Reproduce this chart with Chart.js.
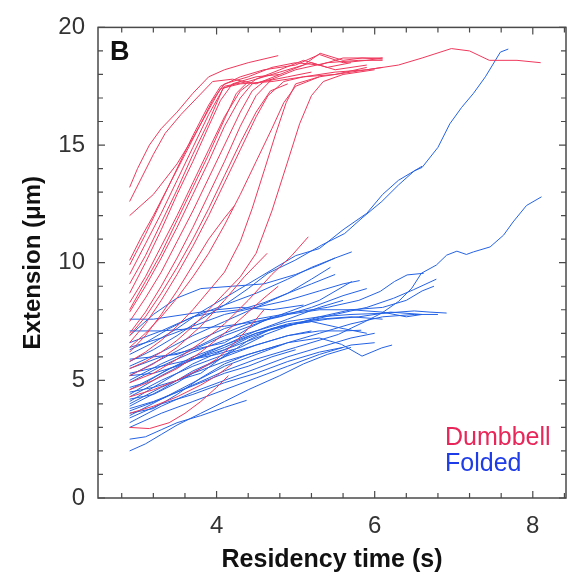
<!DOCTYPE html>
<html>
<head>
<meta charset="utf-8">
<script src="https://cdn.jsdelivr.net/npm/chart.js@4.4.1/dist/chart.umd.min.js"></script>
<style>
    html, body { margin: 0; padding: 0; background: #fff; overflow: hidden; }
    canvas { display: block; }
</style>
</head>
<body>
<canvas id="graficoExtensao" width="567" height="579"></canvas>
<script>
// Limites e marcas dos eixos
const limitesX = [2.5, 8.42];
const limitesY = [0, 20];
const passoX = 0.4;
const passoY = 1;
const rotulosX = [4, 6, 8];
const rotulosY = [0, 5, 10, 15, 20];
const tituloX = 'Residency time (s)';
const tituloY = 'Extension (\u03bcm)';
const letraPainel = 'B';
const nomesSeries = ['Dumbbell', 'Folded'];

// Trajetórias Dumbbell: pares [tempo, extensão]
const tracosDumbbell = [
    [[2.9,13.2],[3.0,14.0],[3.15,15.0],[3.3,15.7],[3.5,16.4],[3.7,17.2],[3.9,17.9],[4.1,18.2],[4.4,18.5],[4.78,18.8]],
    [[2.9,12.6],[3.05,13.6],[3.2,14.6],[3.35,15.5],[3.55,16.3],[3.75,17.0],[3.95,17.7],[4.2,17.8],[4.5,17.6],[4.8,18.0],[5.1,18.4],[5.31,18.9],[5.6,18.6],[5.84,18.7],[6.1,18.65]],
    [[2.9,12.0],[3.2,12.9],[3.5,14.2],[3.7,15.3],[3.9,16.5],[4.05,17.4],[4.3,17.6],[4.7,17.7],[5.1,17.9],[5.5,18.1],[5.9,18.2],[6.3,18.4],[6.6,18.7],[6.97,19.1],[7.2,19.0],[7.45,18.6],[7.8,18.6],[8.1,18.5]],
    [[2.9,10.1],[3.05,11.1],[3.2,12.0],[3.4,13.3],[3.6,14.6],[3.8,15.9],[3.95,16.9],[4.1,17.6],[4.4,17.9],[4.7,18.3],[5.0,18.5],[5.3,18.4],[5.6,18.7],[6.1,18.7]],
    [[2.9,9.9],[3.1,11.2],[3.3,12.6],[3.5,14.0],[3.7,15.4],[3.9,16.7],[4.05,17.5],[4.3,17.9],[4.6,18.2],[5.0,18.4],[5.3,18.85],[5.6,18.5],[5.9,18.6],[6.1,18.7]],
    [[2.9,9.5],[3.1,10.8],[3.3,12.1],[3.5,13.5],[3.7,14.9],[3.9,16.3],[4.1,17.5],[4.4,17.7],[4.8,18.1],[5.2,18.5],[5.5,18.2],[5.9,18.4]],
    [[2.9,9.1],[3.1,10.3],[3.3,11.7],[3.5,13.1],[3.7,14.6],[3.9,16.0],[4.08,17.4],[4.3,17.7]],
    [[2.9,8.7],[3.1,10.0],[3.3,11.4],[3.5,12.9],[3.7,14.3],[3.9,15.8],[4.05,16.9],[4.2,17.6],[4.5,17.9],[4.8,18.0]],
    [[2.9,8.3],[3.1,9.4],[3.3,10.7],[3.5,12.0],[3.7,13.4],[3.9,14.8],[4.1,16.2],[4.3,17.3],[4.5,17.8],[4.8,18.2],[5.1,18.6],[5.4,18.3],[5.7,18.5]],
    [[2.9,8.0],[3.1,9.2],[3.3,10.4],[3.5,11.8],[3.7,13.2],[3.9,14.6],[4.1,16.1],[4.25,17.2],[4.4,17.7]],
    [[2.9,7.9],[3.1,9.0],[3.3,10.2],[3.5,11.5],[3.7,12.9],[3.9,14.3],[4.1,15.8],[4.3,17.0],[4.45,17.6],[4.7,17.8]],
    [[2.9,7.5],[3.1,8.5],[3.3,9.6],[3.5,10.9],[3.7,12.2],[3.9,13.6],[4.1,15.0],[4.3,16.4],[4.45,17.3],[4.6,17.7],[4.9,17.9],[5.2,18.1]],
    [[2.9,7.0],[3.1,7.9],[3.3,9.0],[3.5,10.2],[3.7,11.5],[3.9,12.9],[4.1,14.3],[4.3,15.8],[4.5,17.1],[4.7,17.8],[5.0,18.2],[5.4,18.5],[5.8,18.6],[6.1,18.6]],
    [[2.9,6.9],[3.1,7.7],[3.3,8.7],[3.5,9.8],[3.7,11.0],[3.9,12.3],[4.1,13.7],[4.3,15.1],[4.5,16.4],[4.68,17.3],[4.9,17.6]],
    [[2.9,6.6],[3.1,7.4],[3.3,8.4],[3.5,9.5],[3.7,10.7],[3.9,12.0],[4.1,13.4],[4.3,14.8],[4.5,16.2],[4.65,17.1],[4.85,17.7],[5.1,17.9],[5.5,18.0],[5.9,18.3]],
    [[2.9,6.4],[3.1,7.0],[3.3,7.7],[3.5,8.5],[3.7,9.4],[3.9,10.4],[4.1,11.6],[4.3,12.9],[4.5,14.3],[4.7,15.7],[4.85,16.8],[5.0,17.5],[5.3,17.9]],
    [[2.9,6.2],[3.1,6.9],[3.3,7.8],[3.5,8.8],[3.7,9.9],[3.9,11.0],[4.1,11.9],[4.22,12.4]],
    [[2.9,5.8],[3.1,6.2],[3.3,6.7],[3.5,7.3],[3.7,8.0],[3.9,8.8],[4.1,9.6],[4.3,10.9],[4.45,12.3],[4.61,14.0],[4.75,15.5],[4.88,16.8],[5.0,17.6],[5.3,17.9],[5.7,18.1],[6.1,18.3]],
    [[2.9,5.5],[3.1,5.8],[3.3,6.2],[3.5,6.7],[3.7,7.3],[3.9,8.0],[4.1,8.7],[4.3,9.4],[4.5,10.4],[4.7,12.2],[4.89,14.2],[5.05,15.9],[5.2,17.1],[5.35,17.7],[5.6,18.0],[6.0,18.2]],
    [[2.9,5.2],[3.2,5.7],[3.5,6.4],[3.8,7.3],[4.1,8.4],[4.35,9.4],[4.64,10.4]],
    [[2.9,4.9],[3.2,5.3],[3.5,5.9],[3.8,6.6],[4.1,7.4],[4.4,8.4],[4.7,9.5],[4.95,10.3],[5.16,11.1]],
    [[2.9,4.6],[3.2,5.0],[3.5,5.5],[3.8,6.2],[4.1,7.0],[4.4,7.9],[4.6,8.5],[4.78,9.0]],
    [[2.9,4.3],[3.2,4.6],[3.5,5.0],[3.8,5.5],[4.0,5.9],[4.2,6.5],[4.4,7.2],[4.6,8.0]],
    [[2.9,3.6],[3.2,3.9],[3.5,4.3],[3.8,4.8],[4.0,5.2],[4.2,5.7]],
    [[2.9,3.0],[3.15,2.95],[3.4,3.2],[3.6,3.6],[3.8,4.1],[4.0,4.7],[4.15,5.2]]
];

// Trajetórias Folded: pares [tempo, extensão]
const tracosFolded = [
    [[2.9,5.8],[3.2,6.3],[3.5,6.9],[3.8,7.6],[4.1,8.2],[4.4,8.9],[4.65,9.55],[4.99,10.1],[5.33,10.75],[5.62,11.24],[5.84,11.9],[6.09,12.6],[6.3,13.3],[6.5,13.9],[6.6,14.05],[6.8,14.9],[6.95,15.9],[7.1,16.6],[7.25,17.2],[7.4,17.9],[7.59,18.95],[7.69,19.08]],
    [[2.9,6.1],[3.2,6.6],[3.5,7.2],[3.8,7.9],[4.1,8.5],[4.4,9.1],[4.7,9.7],[5.0,10.3],[5.3,10.6],[5.6,11.4],[5.9,12.1],[6.1,12.9],[6.3,13.5],[6.45,13.8],[6.6,14.1]],
    [[2.9,3.5],[3.3,4.2],[3.7,4.8],[4.1,5.4],[4.5,5.9],[5.0,6.4],[5.54,6.95],[5.71,7.23],[5.88,7.5],[6.09,7.86],[6.3,8.35],[6.47,8.92],[6.59,9.55],[6.78,9.9],[6.91,10.32],[7.04,10.49],[7.16,10.35],[7.25,10.46],[7.46,10.67],[7.63,11.17],[7.75,11.73],[7.92,12.43],[8.11,12.8]],
    [[2.9,4.6],[3.3,5.3],[3.7,6.0],[4.1,6.5],[4.5,7.0],[5.0,7.4],[5.5,7.8],[5.9,8.1],[6.24,8.49],[6.49,8.85],[6.78,9.3]],
    [[2.9,5.2],[3.3,5.9],[3.7,6.6],[4.1,7.2],[4.5,7.6],[5.0,7.9],[5.4,8.1],[5.8,8.4],[6.07,8.78],[6.25,9.2],[6.41,9.48],[6.62,9.55]],
    [[2.9,4.9],[3.3,5.6],[3.7,6.2],[4.1,6.7],[4.5,7.1],[4.9,7.5],[5.3,7.7],[5.7,7.8],[6.1,7.85],[6.5,7.95],[6.7,7.9],[6.91,7.86]],
    [[2.9,4.0],[3.3,4.7],[3.7,5.3],[4.1,5.8],[4.5,6.2],[4.9,6.6],[5.3,6.8],[5.58,6.53],[5.84,6.03],[6.09,6.38],[6.22,6.5]],
    [[2.9,4.3],[3.3,5.0],[3.7,5.6],[4.1,6.1],[4.5,6.5],[4.9,6.9],[5.3,7.1],[5.6,7.1],[5.83,7.13]],
    [[2.9,6.4],[3.3,6.8],[3.7,7.3],[4.1,7.8],[4.5,8.1],[4.9,8.4],[5.3,8.8],[5.6,9.1],[5.81,9.24]],
    [[2.9,6.6],[3.3,7.1],[3.7,7.7],[4.1,8.2],[4.5,8.7],[4.9,9.3],[5.2,9.8],[5.5,10.2],[5.71,10.46]],
    [[2.9,5.6],[3.3,6.2],[3.7,6.9],[4.1,7.5],[4.5,8.1],[4.9,8.7],[5.2,9.3],[5.44,9.8]],
    [[2.9,5.0],[3.3,5.7],[3.7,6.3],[4.1,6.9],[4.5,7.4],[4.9,7.9],[5.3,8.4],[5.71,9.2]],
    [[2.9,7.6],[3.2,7.6],[3.6,7.8],[4.0,8.0],[4.3,8.1],[4.7,8.0],[5.1,8.2]],
    [[2.9,7.1],[3.3,7.1],[3.7,7.2],[4.1,7.3],[4.5,7.5],[4.9,7.8],[5.3,8.0],[5.7,8.0],[6.1,7.9],[6.4,7.7],[6.6,7.8]],
    [[2.9,2.0],[3.1,2.3],[3.3,2.7],[3.5,3.1],[3.8,3.6],[4.1,4.1],[4.4,4.6],[4.8,5.2],[5.1,5.7],[5.4,6.1],[5.7,6.4]],
    [[2.9,2.5],[3.1,2.6],[3.3,2.9],[3.5,3.2],[3.8,3.5],[4.1,3.85],[4.38,4.15]],
    [[2.9,3.0],[3.3,3.6],[3.7,4.1],[4.1,4.6],[4.5,5.1],[4.9,5.6],[5.3,6.1],[5.7,6.5],[6.0,6.6]],
    [[2.9,3.2],[3.3,3.9],[3.7,4.5],[4.1,5.0],[4.5,5.5],[4.9,6.0],[5.3,6.4],[5.7,6.8],[6.0,7.0]],
    [[2.9,3.7],[3.3,4.2],[3.7,4.9],[4.1,5.6],[4.5,6.1],[4.9,6.6],[5.3,7.0],[5.7,7.4],[6.1,7.7],[6.5,7.8],[6.8,7.8]],
    [[2.9,3.9],[3.3,4.6],[3.7,5.4],[4.1,6.0],[4.5,6.5],[4.9,6.9],[5.2,7.1]],
    [[2.9,4.1],[3.3,4.9],[3.7,5.7],[4.1,6.3],[4.5,6.8],[4.9,7.3],[5.3,7.7],[5.7,8.0],[6.1,8.1],[6.4,8.4],[6.6,8.8],[6.75,9.0]],
    [[2.9,4.4],[3.3,5.2],[3.7,5.9],[4.1,6.5],[4.5,7.1],[4.9,7.6],[5.3,8.1],[5.6,8.4]],
    [[2.9,5.3],[3.3,5.6],[3.7,5.9],[4.1,6.4],[4.5,7.0],[4.9,7.4],[5.3,7.6],[5.7,7.7],[6.1,7.6]],
    [[2.9,5.5],[3.3,6.0],[3.7,6.3],[4.1,6.6],[4.4,7.2],[4.7,7.7]],
    [[2.9,6.9],[3.2,7.8],[3.5,8.5],[3.8,8.9],[4.2,9.0],[4.6,9.1],[5.0,9.5],[5.3,9.9],[5.5,10.2]],
    [[2.9,3.4],[3.3,4.0],[3.7,4.4],[4.1,4.9],[4.5,5.3],[4.9,5.8],[5.3,6.2],[5.6,6.4]],
    [[2.9,3.6],[3.2,3.8],[3.5,4.4],[3.8,5.1],[4.1,5.7],[4.4,6.1],[4.8,6.5]],
    [[2.9,4.2],[3.2,4.4],[3.5,4.9],[3.8,5.5],[4.1,6.0],[4.4,6.7],[4.7,7.2],[5.0,7.4],[5.4,7.6],[5.8,7.7],[6.2,7.9],[6.6,7.8]],
    [[2.9,5.9],[3.2,6.0],[3.5,6.1],[3.8,6.5],[4.1,7.0],[4.4,7.4],[4.8,7.7],[5.2,8.1],[5.6,8.6],[5.9,8.9]],
    [[2.9,6.3],[3.1,6.6],[3.4,7.2],[3.7,7.7],[4.0,7.9],[4.3,8.0],[4.6,8.3],[4.9,8.7],[5.2,9.1],[5.5,9.5]],
    [[2.9,4.5],[3.2,4.7],[3.5,5.0],[3.8,5.3],[4.0,5.8],[4.2,6.3]],
    [[2.9,5.2],[3.2,5.3],[3.5,5.6],[3.8,6.0],[4.1,6.3],[4.4,6.8],[4.8,7.3],[5.2,7.5],[5.6,7.2],[5.9,7.0]],
    [[2.9,3.8],[3.2,4.1],[3.5,4.5],[3.8,4.9],[4.1,5.3],[4.4,5.6],[4.7,6.0],[5.0,6.3]],
    [[2.9,4.7],[3.1,4.9],[3.4,5.5],[3.7,5.9],[4.0,6.1],[4.3,6.4],[4.6,6.9]]
];

const corDumbbell = 'rgb(238, 56, 92)';
const corFolded = 'rgb(36, 98, 228)';
const fonte = '"Liberation Sans", Arial, Helvetica, sans-serif';

// Monta um dataset por trajetória
function montarDatasets(tracos, nome, cor) {
    return tracos.map((traco, i) => ({
        label: nome + ' ' + (i + 1),
        data: traco,
        borderColor: cor,
        borderWidth: 1,
        pointRadius: 0,
        fill: false,
        tension: 0
    }));
}

// Verifica se um valor está na lista de rótulos
function temRotulo(valor, lista) {
    return lista.some(r => Math.abs(r - valor) < 1e-6);
}

// Moldura, marcas internas, letra do painel e legenda
const molduraPlugin = {
    id: 'moldura',
    afterDatasetsDraw(chart) {
        const { ctx, scales: { x, y } } = chart;
        const esq = x.getPixelForValue(limitesX[0]);
        const dir = x.getPixelForValue(limitesX[1]);
        const topo = y.getPixelForValue(limitesY[1]);
        const base = y.getPixelForValue(limitesY[0]);

        ctx.save();
        ctx.strokeStyle = '#4a4a4a';
        ctx.lineWidth = 1.5;
        ctx.strokeRect(esq, topo, dir - esq, base - topo);

        ctx.lineWidth = 1.2;
        ctx.beginPath();
        x.ticks.forEach(t => {
            const px = x.getPixelForValue(t.value);
            const len = temRotulo(t.value, rotulosX) ? 7 : 5;
            ctx.moveTo(px, base); ctx.lineTo(px, base - len);
            ctx.moveTo(px, topo); ctx.lineTo(px, topo + len);
        });
        y.ticks.forEach(t => {
            const py = y.getPixelForValue(t.value);
            const len = temRotulo(t.value, rotulosY) ? 7 : 5;
            ctx.moveTo(esq, py); ctx.lineTo(esq + len, py);
            ctx.moveTo(dir, py); ctx.lineTo(dir - len, py);
        });
        ctx.stroke();

        ctx.fillStyle = '#111';
        ctx.font = 'bold 27px ' + fonte;
        ctx.textBaseline = 'alphabetic';
        ctx.textAlign = 'left';
        ctx.fillText(letraPainel, esq + 12, topo + 33);

        ctx.font = '25px ' + fonte;
        ctx.fillStyle = 'rgb(232, 38, 90)';
        ctx.fillText(nomesSeries[0], esq + 347, topo + 418);
        ctx.fillStyle = 'rgb(30, 60, 232)';
        ctx.fillText(nomesSeries[1], esq + 347, topo + 444);
        ctx.restore();
    }
};

const ctx = document.getElementById('graficoExtensao').getContext('2d');
const grafico = new Chart(ctx, {
    type: 'line',
    data: {
        datasets: [
            ...montarDatasets(tracosDumbbell, nomesSeries[0], corDumbbell),
            ...montarDatasets(tracosFolded, nomesSeries[1], corFolded)
        ]
    },
    options: {
        responsive: false,
        maintainAspectRatio: false,
        animation: false,
        devicePixelRatio: 1,
        layout: { padding: { left: 0, right: 1, top: 24, bottom: 0 } },
        plugins: {
            legend: { display: false },
            tooltip: { enabled: false }
        },
        scales: {
            x: {
                type: 'linear',
                min: limitesX[0],
                max: limitesX[1],
                grid: { display: false, drawTicks: false },
                border: { display: false },
                ticks: {
                    stepSize: passoX,
                    includeBounds: false,
                    autoSkip: false,
                    maxRotation: 0,
                    padding: 14,
                    color: '#333',
                    font: { family: fonte, size: 24 },
                    callback: v => temRotulo(v, rotulosX) ? String(Math.round(v)) : ''
                },
                title: {
                    display: true,
                    text: tituloX,
                    color: '#111',
                    font: { family: fonte, size: 25, weight: 'bold' },
                    padding: { top: 4, bottom: 4 }
                },
                afterFit: s => { s.height = 81; s.paddingLeft = 0; s.paddingRight = 0; }
            },
            y: {
                type: 'linear',
                min: limitesY[0],
                max: limitesY[1],
                grid: { display: false, drawTicks: false },
                border: { display: false },
                ticks: {
                    stepSize: passoY,
                    autoSkip: false,
                    padding: 13,
                    color: '#333',
                    font: { family: fonte, size: 24 },
                    callback: v => temRotulo(v, rotulosY) ? String(v) : ''
                },
                title: {
                    display: true,
                    text: tituloY,
                    color: '#111',
                    font: { family: fonte, size: 24, weight: 'bold' },
                    padding: { top: 19, bottom: 4 }
                },
                afterFit: s => { s.width = 98; }
            }
        }
    },
    plugins: [molduraPlugin]
});
</script>
</body>
</html>
